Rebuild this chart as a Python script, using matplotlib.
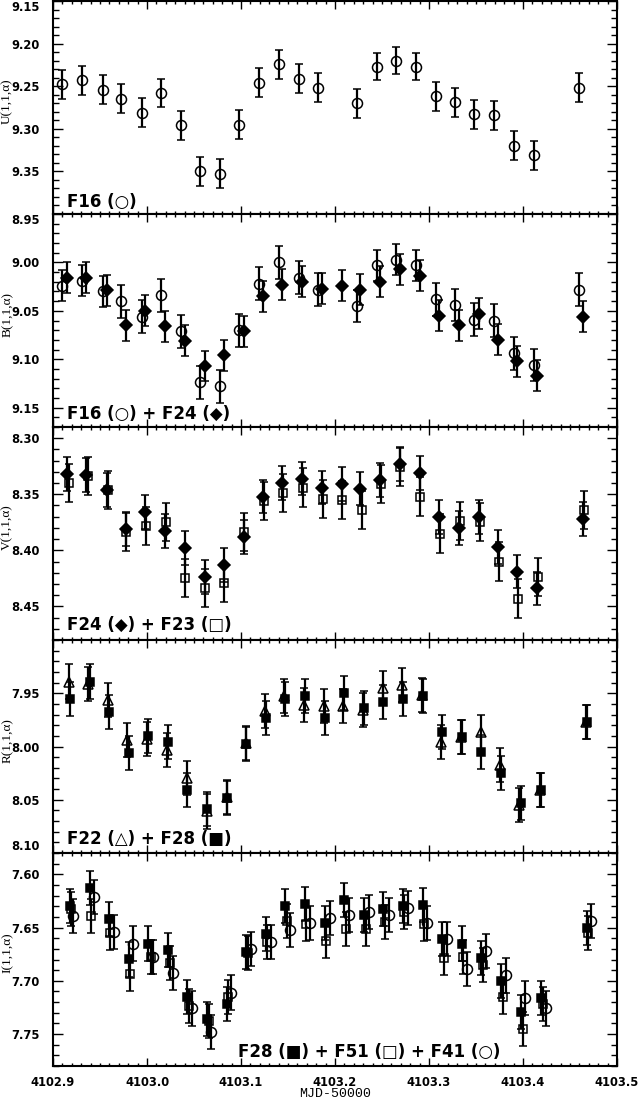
import matplotlib
matplotlib.use("Agg")
import matplotlib.pyplot as plt
from matplotlib.ticker import MultipleLocator, FixedLocator

# ---------------- data ----------------
# F16 (U and B)
t16 = [4102.9095, 4102.9312, 4102.9529, 4102.9728, 4102.9945, 4103.0153, 4103.0365,
       4103.0564, 4103.0776, 4103.0984, 4103.1192, 4103.1405, 4103.1613, 4103.1821,
       4103.2237, 4103.2444, 4103.2653, 4103.2865, 4103.3073, 4103.3281, 4103.3484,
       4103.3692, 4103.3905, 4103.4113, 4103.4598]
u16 = [9.248, 9.243, 9.254, 9.265, 9.281, 9.258, 9.296, 9.350, 9.353, 9.295, 9.246,
       9.224, 9.241, 9.252, 9.270, 9.227, 9.220, 9.227, 9.262, 9.269, 9.283, 9.284,
       9.320, 9.331, 9.252]
u16_err = [0.017, 0.017, 0.017, 0.017, 0.017, 0.017, 0.017, 0.017, 0.017, 0.017, 0.017,
           0.017, 0.017, 0.017, 0.017, 0.016, 0.016, 0.016, 0.017, 0.017, 0.017, 0.017,
           0.017, 0.017, 0.017]
b16 = [9.024, 9.019, 9.030, 9.040, 9.056, 9.034, 9.071, 9.124, 9.128, 9.070, 9.022,
       9.000, 9.016, 9.028, 9.045, 9.003, 8.997, 9.003, 9.038, 9.044, 9.059, 9.060,
       9.094, 9.106, 9.028]
b16_err = [0.016, 0.016, 0.016, 0.017, 0.017, 0.017, 0.017, 0.017, 0.017, 0.017, 0.017,
           0.017, 0.017, 0.017, 0.017, 0.016, 0.016, 0.016, 0.017, 0.017, 0.017, 0.017,
           0.017, 0.017, 0.017]

# F24 (B and V)
t24 = [4102.9152, 4102.9355, 4102.9572, 4102.9780, 4102.9984, 4103.0192, 4103.0400,
       4103.0612, 4103.0815, 4103.1028, 4103.1231, 4103.1439, 4103.1652, 4103.1860,
       4103.2072, 4103.2271, 4103.2479, 4103.2692, 4103.2900, 4103.3108, 4103.3320,
       4103.3528, 4103.3731, 4103.3939, 4103.4147, 4103.4641]
b24 = [9.016, 9.016, 9.029, 9.065, 9.050, 9.066, 9.081, 9.107, 9.096, 9.071, 9.035,
       9.023, 9.020, 9.027, 9.024, 9.028, 9.020, 9.007, 9.014, 9.055, 9.065, 9.053,
       9.080, 9.102, 9.117, 9.056]
b24_err = [0.016, 0.016, 0.016, 0.016, 0.016, 0.016, 0.016, 0.016, 0.016, 0.016, 0.016,
           0.016, 0.016, 0.016, 0.016, 0.016, 0.016, 0.016, 0.016, 0.016, 0.016, 0.016,
           0.016, 0.016, 0.016, 0.016]
v24 = [8.332, 8.333, 8.346, 8.381, 8.366, 8.383, 8.398, 8.424, 8.413, 8.388, 8.352,
       8.340, 8.336, 8.344, 8.341, 8.345, 8.337, 8.323, 8.331, 8.370, 8.380, 8.370,
       8.397, 8.419, 8.434, 8.372]
v24_err = [0.015, 0.015, 0.015, 0.015, 0.015, 0.015, 0.015, 0.015, 0.015, 0.015, 0.015,
           0.015, 0.015, 0.015, 0.015, 0.015, 0.015, 0.015, 0.015, 0.015, 0.015, 0.015,
           0.015, 0.015, 0.015, 0.015]

# F23 (V)
t23 = [4102.9165, 4102.9368, 4102.9581, 4102.9780, 4102.9988, 4103.0205, 4103.0408,
       4103.0616, 4103.0824, 4103.1036, 4103.1240, 4103.1452, 4103.1660, 4103.1869,
       4103.2077, 4103.2285, 4103.2488, 4103.2696, 4103.2908, 4103.3116, 4103.3333,
       4103.3541, 4103.3744, 4103.3948, 4103.4164, 4103.4654]
v23 = [8.340, 8.334, 8.346, 8.384, 8.378, 8.375, 8.425, 8.434, 8.429, 8.384, 8.356,
       8.349, 8.344, 8.354, 8.355, 8.364, 8.341, 8.326, 8.352, 8.385, 8.374, 8.375,
       8.410, 8.443, 8.424, 8.364]
v23_err = [0.017, 0.017, 0.017, 0.017, 0.017, 0.017, 0.017, 0.017, 0.017, 0.017, 0.017,
           0.017, 0.017, 0.017, 0.017, 0.017, 0.017, 0.017, 0.017, 0.017, 0.017, 0.017,
           0.017, 0.017, 0.017, 0.017]

# F22 (R)
t22 = [4102.9165, 4102.9377, 4102.9585, 4102.9789, 4102.9997, 4103.0213, 4103.0421,
       4103.0638, 4103.0846, 4103.1049, 4103.1253, 4103.1461, 4103.1665, 4103.1881,
       4103.2089, 4103.2293, 4103.2510, 4103.2718, 4103.2921, 4103.3129, 4103.3341,
       4103.3549, 4103.3757, 4103.3961, 4103.4178, 4103.4667]
r22 = [7.939, 7.941, 7.956, 7.994, 7.993, 8.003, 8.030, 8.061, 8.047, 7.997, 7.967,
       7.953, 7.961, 7.962, 7.962, 7.966, 7.945, 7.942, 7.952, 7.996, 7.991, 7.986,
       8.017, 8.055, 8.041, 7.977]
r22_err = [0.016, 0.016, 0.016, 0.016, 0.016, 0.016, 0.016, 0.016, 0.016, 0.016, 0.016,
           0.016, 0.016, 0.016, 0.016, 0.016, 0.016, 0.016, 0.016, 0.016, 0.016, 0.016,
           0.016, 0.016, 0.016, 0.016]

# F28 (R and I)
t28 = [4102.9182, 4102.9390, 4102.9598, 4102.9806, 4103.0014, 4103.0222, 4103.0430,
       4103.0638, 4103.0854, 4103.1049, 4103.1266, 4103.1470, 4103.1678, 4103.1890,
       4103.2098, 4103.2306, 4103.2510, 4103.2726, 4103.2934, 4103.3138, 4103.3346,
       4103.3558, 4103.3766, 4103.3974, 4103.4191, 4103.4676]
r28 = [7.955, 7.939, 7.968, 8.006, 7.990, 7.996, 8.041, 8.059, 8.048, 7.998, 7.973,
       7.955, 7.953, 7.973, 7.950, 7.964, 7.958, 7.955, 7.953, 7.986, 7.991, 8.005,
       8.025, 8.053, 8.041, 7.977]
r28_err = [0.016, 0.016, 0.016, 0.016, 0.016, 0.016, 0.016, 0.016, 0.016, 0.016, 0.016,
           0.016, 0.016, 0.016, 0.016, 0.016, 0.016, 0.016, 0.016, 0.016, 0.016, 0.016,
           0.016, 0.016, 0.016, 0.016]
i28 = [7.630, 7.613, 7.642, 7.680, 7.665, 7.671, 7.715, 7.736, 7.722, 7.673, 7.656,
       7.630, 7.628, 7.646, 7.624, 7.638, 7.633, 7.630, 7.629, 7.661, 7.665, 7.679,
       7.700, 7.729, 7.716, 7.650]
i28_err = [0.016, 0.016, 0.016, 0.016, 0.016, 0.016, 0.016, 0.016, 0.016, 0.016, 0.016,
           0.016, 0.016, 0.016, 0.016, 0.016, 0.016, 0.016, 0.016, 0.016, 0.016, 0.016,
           0.016, 0.016, 0.016, 0.016]

# F51 (I)
t51 = [4102.9191, 4102.9399, 4102.9607, 4102.9823, 4103.0040, 4103.0244, 4103.0452,
       4103.0655, 4103.0863, 4103.1071, 4103.1279, 4103.1491, 4103.1695, 4103.1903,
       4103.2120, 4103.2328, 4103.2531, 4103.2735, 4103.2943, 4103.3159, 4103.3363,
       4103.3571, 4103.3783, 4103.4004, 4103.4208, 4103.4689]
i51 = [7.633, 7.639, 7.655, 7.694, 7.678, 7.683, 7.724, 7.738, 7.715, 7.674, 7.664,
       7.644, 7.647, 7.663, 7.651, 7.651, 7.645, 7.635, 7.647, 7.679, 7.678, 7.685,
       7.715, 7.745, 7.722, 7.655]
i51_err = [0.016, 0.016, 0.016, 0.016, 0.016, 0.016, 0.016, 0.016, 0.016, 0.016, 0.016,
           0.016, 0.016, 0.016, 0.016, 0.016, 0.016, 0.016, 0.016, 0.016, 0.016, 0.016,
           0.016, 0.016, 0.016, 0.016]

# F41 (I)
t41 = [4102.9217, 4102.9433, 4102.9650, 4102.9849, 4103.0062, 4103.0274, 4103.0482,
       4103.0681, 4103.0898, 4103.1110, 4103.1318, 4103.1522, 4103.1730, 4103.1946,
       4103.2154, 4103.2358, 4103.2575, 4103.2778, 4103.2978, 4103.3190, 4103.3406,
       4103.3606, 4103.3818, 4103.4026, 4103.4243, 4103.4719]
i41 = [7.639, 7.621, 7.654, 7.665, 7.678, 7.693, 7.726, 7.748, 7.711, 7.670, 7.664,
       7.652, 7.646, 7.641, 7.638, 7.635, 7.638, 7.632, 7.646, 7.661, 7.689, 7.672,
       7.695, 7.716, 7.726, 7.644]
i41_err = [0.016, 0.016, 0.016, 0.016, 0.016, 0.016, 0.016, 0.016, 0.016, 0.016, 0.016,
           0.016, 0.016, 0.016, 0.016, 0.016, 0.016, 0.016, 0.016, 0.016, 0.016, 0.016,
           0.016, 0.016, 0.016, 0.016]

xticks = [4102.9, 4103.0, 4103.1, 4103.2, 4103.3, 4103.4, 4103.5]
xtick_labels = ["4102.9", "4103.0", "4103.1", "4103.2", "4103.3", "4103.4", "4103.5"]

ylabels = ["U(1,1,α)", "B(1,1,α)", "V(1,1,α)", "R(1,1,α)", "I(1,1,α)"]
ylims = [(9.40, 9.15), (9.17, 8.95), (8.48, 8.29), (8.10, 7.90), (7.78, 7.58)]
yticks = [[9.15, 9.20, 9.25, 9.30, 9.35],
          [8.95, 9.00, 9.05, 9.10, 9.15],
          [8.30, 8.35, 8.40, 8.45],
          [7.95, 8.00, 8.05, 8.10],
          [7.60, 7.65, 7.70, 7.75]]
panel_texts = ["F16 (○)", "F16 (○) + F24 (◆)", "F24 (◆) + F23 (□)",
               "F22 (△) + F28 (■)", "F28 (■) + F51 (□) + F41 (○)"]

# ---------------- figure ----------------
W, H = 638, 1101
fig = plt.figure(figsize=(W / 100, H / 100), dpi=100)

left_px, right_px = 53, 617
top_px, bottom_px = 1, 1066
ph = (bottom_px - top_px) / 5.0

tickfont = dict(family="DejaVu Sans", weight="bold", size=8.3)

axes = []
for k in range(5):
    y0 = top_px + k * ph
    ax = fig.add_axes([left_px / W, 1 - (y0 + ph) / H, (right_px - left_px) / W, ph / H])
    axes.append(ax)
    ax.set_xlim(4102.9, 4103.5)
    ax.set_ylim(*ylims[k])
    for s in ax.spines.values():
        s.set_linewidth(1.5)
    ax.xaxis.set_major_locator(FixedLocator(xticks))
    ax.xaxis.set_minor_locator(MultipleLocator(0.01))
    ax.yaxis.set_major_locator(FixedLocator(yticks[k]))
    ax.yaxis.set_minor_locator(MultipleLocator(0.01))
    ax.tick_params(which="both", direction="in", top=True, right=True, width=1.0)
    ax.tick_params(axis="x", which="major", length=5.5, pad=7.5)
    ax.tick_params(axis="x", which="minor", length=2.5)
    ax.tick_params(axis="y", which="major", length=7.5, pad=9.5)
    ax.tick_params(axis="y", which="minor", length=4.5)
    ax.set_yticks(yticks[k])
    ax.set_yticklabels([f"{v:.2f}" for v in yticks[k]], fontdict=tickfont)
    if k < 4:
        ax.set_xticklabels([])
    else:
        ax.set_xticks(xticks)
        ax.set_xticklabels(xtick_labels, fontdict=tickfont)
    # y label placed as figure text, centred at x = 7.5 px
    fig.text(7.5 / W, 1 - (y0 + 0.47 * ph) / H, ylabels[k], rotation=90,
             ha="center", va="center", family="Liberation Serif", size=9.5)

# label alignment at panel edges
axes[0].get_yticklabels()[0].set_va("top")
axes[1].get_yticklabels()[0].set_va("top")
axes[3].get_yticklabels()[-1].set_va("bottom")

eb = dict(color="black", ecolor="black", elinewidth=1.6, capsize=3.2, capthick=1.6,
          linestyle="none", markeredgewidth=1.1)

# U
axes[0].errorbar(t16, u16, yerr=u16_err, marker="o", ms=7.2, mfc="none", mec="black", **eb)
# B
axes[1].errorbar(t16, b16, yerr=b16_err, marker="o", ms=7.2, mfc="none", mec="black", **eb)
axes[1].errorbar(t24, b24, yerr=b24_err, marker="D", ms=6.0, mfc="black", mec="black", **eb)
# V
axes[2].errorbar(t24, v24, yerr=v24_err, marker="D", ms=6.0, mfc="black", mec="black", **eb)
axes[2].errorbar(t23, v23, yerr=v23_err, marker="s", ms=6.3, mfc="none", mec="black", **eb)
# R
axes[3].errorbar(t22, r22, yerr=r22_err, marker="^", ms=7.8, mfc="none", mec="black", **eb)
axes[3].errorbar(t28, r28, yerr=r28_err, marker="s", ms=6.3, mfc="black", mec="black", **eb)
# I
axes[4].errorbar(t28, i28, yerr=i28_err, marker="s", ms=6.3, mfc="black", mec="black", **eb)
axes[4].errorbar(t51, i51, yerr=i51_err, marker="s", ms=6.3, mfc="none", mec="black", **eb)
axes[4].errorbar(t41, i41, yerr=i41_err, marker="o", ms=7.2, mfc="none", mec="black", **eb)

text_pos = [(0.025, 0.056), (0.025, 0.062), (0.025, 0.07), (0.025, 0.066), (0.328, 0.066)]
for k in range(5):
    axes[k].text(text_pos[k][0], text_pos[k][1], panel_texts[k], transform=axes[k].transAxes,
                 ha="left", va="center", family="DejaVu Sans", weight="bold", size=12)

fig.text((left_px + 0.5 * (right_px - left_px)) / W, 1 - 1094 / H, "MJD-50000",
         ha="center", va="center", family="Liberation Mono", size=9.5)

fig.savefig("out.png", dpi=100)
